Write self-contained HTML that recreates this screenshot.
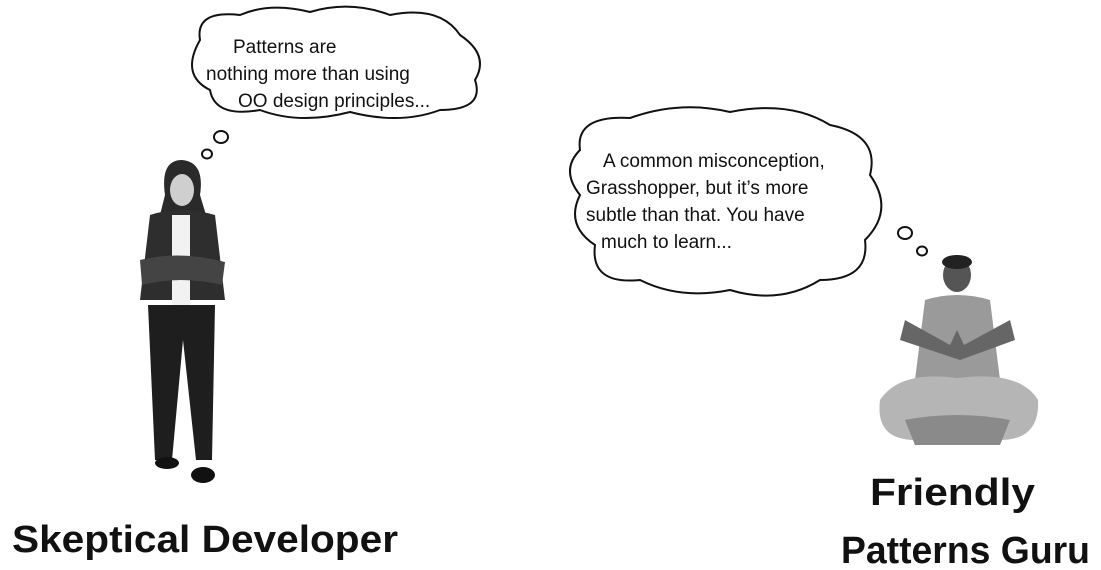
<!DOCTYPE html>
<html><head><meta charset="utf-8"><style>
html,body{margin:0;padding:0;background:#fff;width:1101px;height:570px;overflow:hidden}
svg{display:block}
.t{font-family:"Liberation Sans",sans-serif;font-size:19px;fill:#111}
.lab{font-family:"Liberation Sans Narrow","Liberation Sans",sans-serif;font-weight:bold;font-size:38px;fill:#111}
</style></head><body>
<svg width="1101" height="570" viewBox="0 0 1101 570">
<g fill="#fff" stroke="#111" stroke-width="2">
<path d="M200,40 Q195,10 240,15 Q270,2 310,12 Q350,0 390,15 Q440,5 460,35 Q490,55 475,80 Q485,110 440,110 Q400,125 350,112 Q300,125 260,110 Q215,118 210,90 Q180,75 200,40 Z"/>
<ellipse cx="221" cy="137" rx="7" ry="6"/>
<ellipse cx="207" cy="154" rx="5" ry="4.5"/>
</g>
<text class="t" x="233" y="53">Patterns are</text>
<text class="t" x="206" y="80">nothing more than using</text>
<text class="t" x="238" y="107">OO design principles...</text>

<g fill="#fff" stroke="#111" stroke-width="2">
<path d="M580,150 Q575,115 630,118 Q680,100 730,112 Q790,100 830,125 Q880,135 870,175 Q895,210 865,240 Q870,280 820,280 Q780,305 730,290 Q680,300 640,280 Q590,285 595,245 Q565,225 580,195 Q560,170 580,150 Z"/>
<ellipse cx="905" cy="233" rx="7" ry="6"/>
<ellipse cx="922" cy="251" rx="5" ry="4.5"/>
</g>
<text class="t" x="603" y="167">A common misconception,</text>
<text class="t" x="586" y="194">Grasshopper, but it’s more</text>
<text class="t" x="586" y="221">subtle than that. You have</text>
<text class="t" x="601" y="248">much to learn...</text>

<g>
<path d="M165,195 Q160,160 182,160 Q205,162 200,195 L206,215 L160,215 Z" fill="#2a2a2a"/>
<ellipse cx="182" cy="190" rx="12" ry="16" fill="#cfcfcf"/>
<path d="M150,215 Q180,205 215,215 L225,300 L140,300 Z" fill="#2e2e2e"/>
<rect x="172" y="215" width="18" height="95" fill="#f2f2f2"/>
<path d="M140,260 Q180,250 225,262 L222,285 Q180,275 142,285 Z" fill="#444"/>
<path d="M148,305 L215,305 L212,460 L196,460 L183,340 L172,460 L155,460 Z" fill="#1e1e1e"/>
<ellipse cx="167" cy="463" rx="12" ry="6" fill="#111"/>
<ellipse cx="203" cy="475" rx="12" ry="8" fill="#111"/>
</g>

<g>
<ellipse cx="957" cy="275" rx="14" ry="17" fill="#555"/>
<ellipse cx="957" cy="262" rx="15" ry="7" fill="#222"/>
<path d="M925,300 Q957,290 990,300 L1000,380 L915,380 Z" fill="#9a9a9a"/>
<path d="M905,320 L950,345 L957,330 L964,345 L1010,320 L1015,340 L960,360 L900,340 Z" fill="#666"/>
<path d="M880,400 Q900,370 957,378 Q1020,370 1038,400 Q1040,440 1000,440 L957,430 L915,440 Q875,440 880,400 Z" fill="#b5b5b5"/>
<path d="M905,420 Q957,410 1010,420 L1000,445 L915,445 Z" fill="#8a8a8a"/>
</g>

<text class="lab" x="12" y="552" textLength="386" lengthAdjust="spacingAndGlyphs">Skeptical Developer</text>
<text class="lab" x="870" y="505" textLength="165" lengthAdjust="spacingAndGlyphs">Friendly</text>
<text class="lab" x="841" y="563" textLength="249" lengthAdjust="spacingAndGlyphs">Patterns Guru</text>
</svg>
</body></html>
